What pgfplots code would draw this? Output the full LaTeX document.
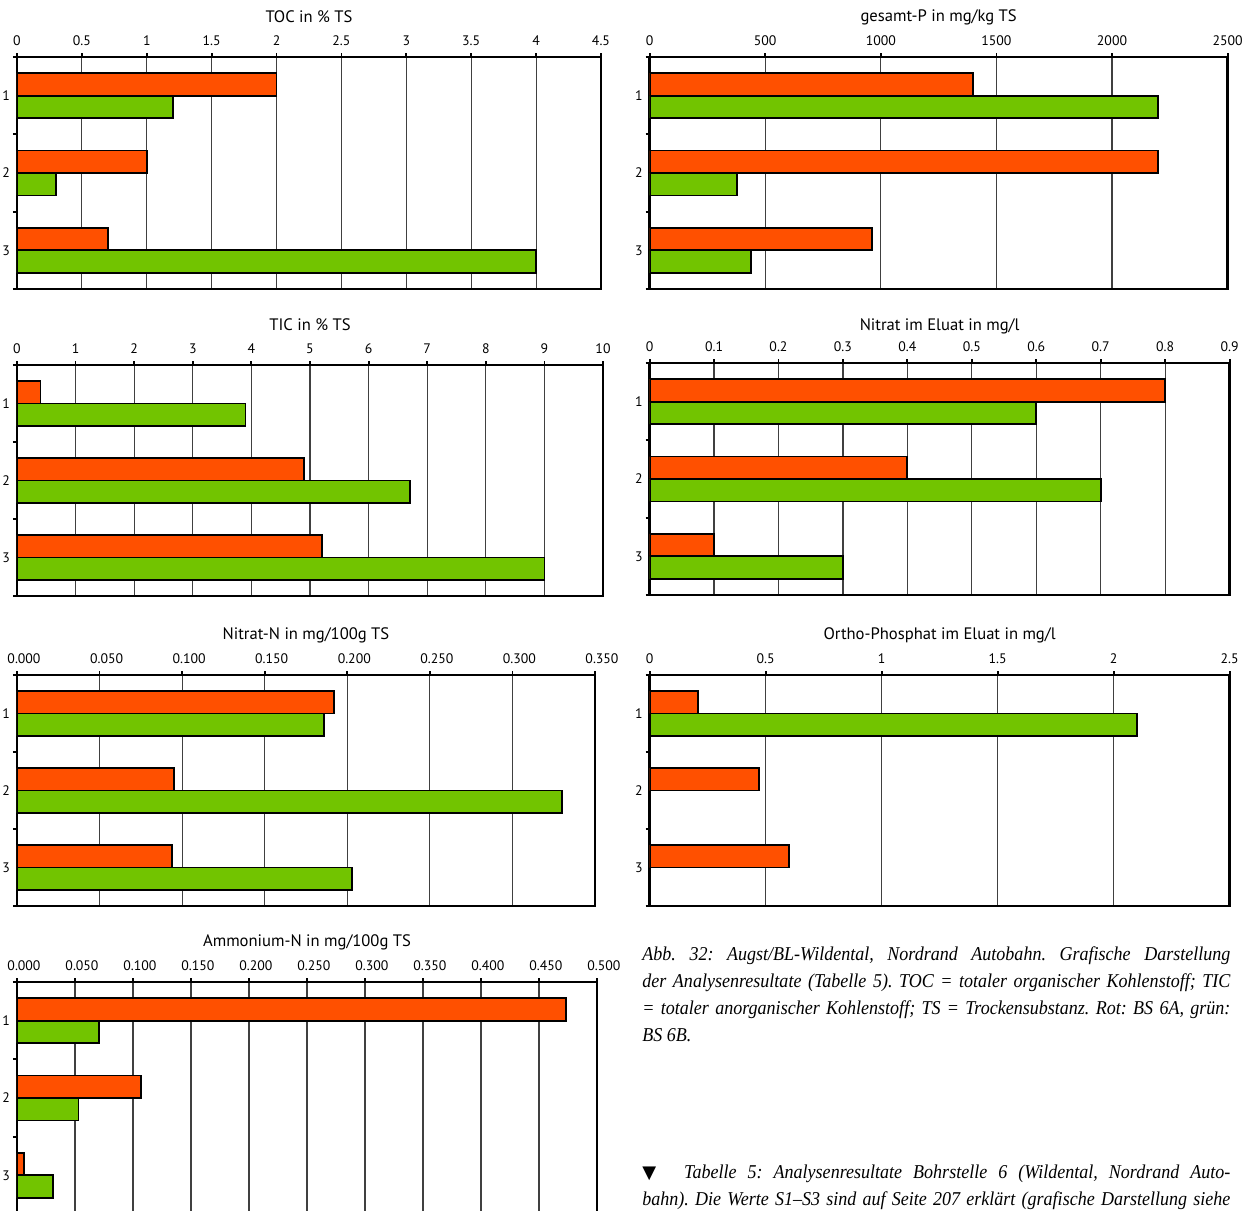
\documentclass[border=0pt]{standalone}
\usepackage{fontspec}
\setmainfont{PT Sans}
\newfontfamily\capfont{Liberation Serif}[FakeStretch=0.92]
\newfontfamily\symfont{DejaVu Sans}
\usepackage{pgfplots}
\pgfplotsset{compat=1.18}

\definecolor{cRed}{RGB}{255,80,0}
\definecolor{cGreen}{RGB}{114,196,0}

\pgfplotsset{
  panel/.style={
    xbar, scale only axis, anchor=north west,
    y dir=reverse, ymin=0.5, ymax=3.5, xmin=0,
    ytick={0.5,1.5,2.5,3.5}, yticklabels={},
    extra y ticks={1,2,3}, extra y tick labels={1,2,3},
    extra y tick style={major tick length=0pt},
    ytick pos=left, xtick pos=right, xticklabel pos=right,
    tick align=outside, major tick length=2pt,
    every tick/.style={black, line width=0.9pt},
    axis line style={line width=1.2pt},
    xmajorgrids, major grid style={black!75, line width=0.6pt},
    bar width=0.29,
    scaled x ticks=false,
    /pgf/number format/1000 sep={},
    /pgf/number format/assume math mode=true,
    tick label style={font=\fontsize{6.9}{8}\selectfont},
    xticklabel style={yshift=0pt},
    title style={font=\fontsize{8.3}{10}\selectfont, at={(0.5,1)}, anchor=center, yshift=14pt},
  },
  three/.style={xticklabel style={xshift=3.5pt, /pgf/number format/.cd, fixed, fixed zerofill, precision=3}},
  serA/.style={fill=cRed, draw=black, line width=0.9pt, bar shift=-0.145},
  serB/.style={fill=cGreen, draw=black, line width=0.9pt, bar shift=0.145},
}

\begin{document}
\frenchspacing
\begin{tikzpicture}
\useasboundingbox (0,0) rectangle (625pt,-605.5pt);

% TOC
\begin{axis}[panel, at={(8.5pt,-28.5pt)}, width=292pt, height=116pt,
  xmax=4.5, xtick distance=0.5, title={TOC in \% TS}]
\addplot[serA] coordinates {(2.0,1) (1.0,2) (0.7,3)};
\addplot[serB] coordinates {(1.2,1) (0.3,2) (4.0,3)};
\end{axis}

% gesamt-P
\begin{axis}[panel, at={(324.8pt,-28.5pt)}, width=289pt, height=116pt,
  xmax=2500, xtick distance=500, title={gesamt-P in mg/kg TS}]
\addplot[serA] coordinates {(1400,1) (2200,2) (962,3)};
\addplot[serB] coordinates {(2200,1) (377,2) (438,3)};
\end{axis}

% TIC
\begin{axis}[panel, at={(8.5pt,-182.5pt)}, width=293pt, height=115.5pt,
  xmax=10, xtick distance=1, title={TIC in \% TS}]
\addplot[serA] coordinates {(0.4,1) (4.9,2) (5.2,3)};
\addplot[serB] coordinates {(3.9,1) (6.7,2) (9.0,3)};
\end{axis}

% Nitrat im Eluat
\begin{axis}[panel, at={(324.8pt,-181.5pt)}, width=290pt, height=116pt,
  xmax=0.9, xtick distance=0.1, title={Nitrat im Eluat in mg/l},
  title style={yshift=-1.5pt}]
\addplot[serA] coordinates {(0.8,1) (0.4,2) (0.1,3)};
\addplot[serB] coordinates {(0.6,1) (0.7,2) (0.3,3)};
\end{axis}

% Nitrat-N
\begin{axis}[panel, three, at={(8.5pt,-337.5pt)}, width=289pt, height=115.5pt,
  xmax=0.35, xtick distance=0.05, title={Nitrat-N in mg/100g TS}]
\addplot[serA] coordinates {(0.192,1) (0.095,2) (0.094,3)};
\addplot[serB] coordinates {(0.186,1) (0.330,2) (0.203,3)};
\end{axis}

% Ortho-Phosphat
\begin{axis}[panel, at={(324.8pt,-337.5pt)}, width=290pt, height=115.5pt,
  xmax=2.5, xtick distance=0.5, title={Ortho-Phosphat im Eluat in mg/l}]
\addplot[serA] coordinates {(0.21,1) (0.47,2) (0.60,3)};
\addplot[serB] coordinates {(2.1,1)};
\end{axis}

% Ammonium-N
\begin{axis}[panel, three, at={(8.5pt,-491pt)}, width=290pt, height=116pt,
  xmax=0.5, xtick distance=0.05, title={Ammonium-N in mg/100g TS}]
\addplot[serA] coordinates {(0.473,1) (0.107,2) (0.006,3)};
\addplot[serB] coordinates {(0.071,1) (0.053,2) (0.031,3)};
\end{axis}

% captions
\node[anchor=north west, inner sep=0pt, text width=294pt, align=justify,
  font=\capfont\itshape\fontsize{9.8}{13.6}\selectfont] at (321pt,-473pt)
  {Abb. 32: Augst/BL-Wildental, Nordrand Autobahn. Grafische Darstellung\linebreak
   der Analysenresultate (Tabelle 5). TOC = totaler organischer Kohlenstoff; TIC\linebreak
   = totaler anorganischer Kohlenstoff; TS = Trockensubstanz. Rot: BS 6A, grün:\linebreak
   BS 6B.};
\node[anchor=north west, inner sep=0pt, text width=294pt, align=justify,
  font=\capfont\itshape\fontsize{9.8}{13.6}\selectfont] at (321pt,-582pt)
  {\parfillskip=0pt {\symfont\upshape\small ▼}\hspace{14pt}Tabelle 5: Analysenresultate Bohrstelle 6 (Wildental, Nordrand Auto-\linebreak
   bahn). Die Werte S1–S3 sind auf Seite 207 erklärt (grafische Darstellung siehe\par};
\end{tikzpicture}
\end{document}
